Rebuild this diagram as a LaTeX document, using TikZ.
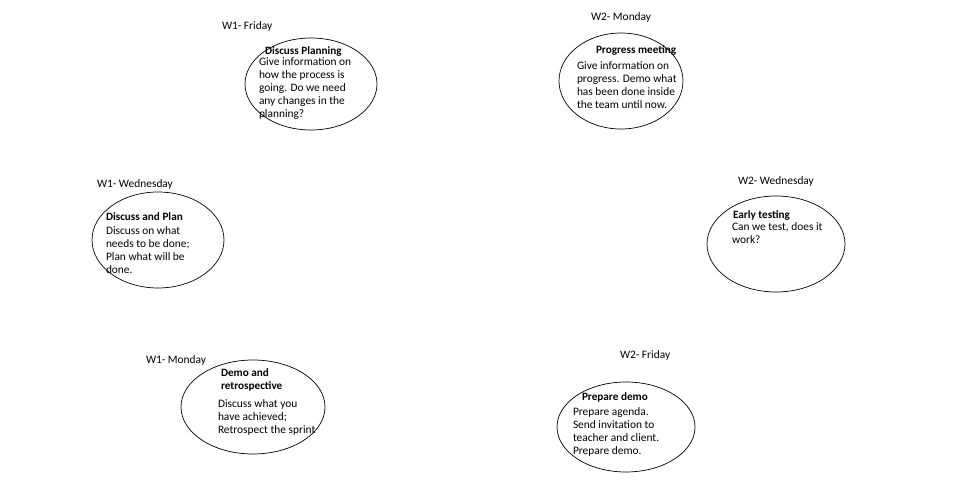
\documentclass[tikz,border=0pt]{standalone}
\usepackage{fontspec}
\setmainfont{Carlito}
\begin{document}
\begin{tikzpicture}[x=1pt,y=-1pt,
  every node/.style={inner sep=0pt, outer sep=0pt},
  day/.style={anchor=west, font=\fontsize{11.4}{13}\selectfont},
  ttl/.style={anchor=west, align=left, font=\fontsize{11.2}{13}\selectfont\bfseries},
  body/.style={anchor=north west, align=left, font=\fontsize{11.4}{13}\selectfont},
]
\useasboundingbox (0,0) rectangle (959,494);
% ellipses
\draw[line width=0.7pt] (311,84) ellipse [x radius=66, y radius=46];
\draw[line width=0.7pt] (621,81) ellipse [x radius=62, y radius=48];
\draw[line width=0.7pt] (158,240) ellipse [x radius=66, y radius=48];
\draw[line width=0.7pt] (776,244) ellipse [x radius=69, y radius=48];
\draw[line width=0.7pt] (253,407) ellipse [x radius=72, y radius=47];
\draw[line width=0.7pt] (626,427) ellipse [x radius=69, y radius=45];
% day labels
\node[day] (d1) at (222,26) {W1- Friday};
\node[day] (d2) at (591,17) {W2- Monday};
\node[day] (d3) at (97,184) {W1- Wednesday};
\node[day] (d4) at (738,181) {W2- Wednesday};
\node[day] (d5) at (146,360) {W1- Monday};
\node[day] (d6) at (620,355) {W2- Friday};
% titles
\node[ttl] (t1) at (265,52) {Discuss Planning};
\node[ttl] (t2) at (596,51) {Progress meeting};
\node[ttl] (t3) at (106,217) {Discuss and Plan};
\node[ttl] (t4) at (733,216) {Early testing};
\node[ttl, anchor=north west] (t5) at (221,369) {Demo and\\retrospective};
\node[ttl] (t6) at (582,397) {Prepare demo};
% bodies
\node[body] (b1) at (259,58) {Give information on\\how the process is\\going. Do we need\\any changes in the\\planning?};
\node[body] (b2) at (577,62) {Give information on\\progress. Demo what\\has been done inside\\the team until now.};
\node[body] (b3) at (106,227) {Discuss on what\\needs to be done;\\Plan what will be\\done.};
\node[body] (b4) at (732,223) {Can we test, does it\\work?};
\node[body] (b5) at (218,400) {Discuss what you\\have achieved;\\Retrospect the sprint};
\node[body] (b6) at (573,408) {Prepare agenda.\\Send invitation to\\teacher and client.\\Prepare demo.};
\end{tikzpicture}
\end{document}
